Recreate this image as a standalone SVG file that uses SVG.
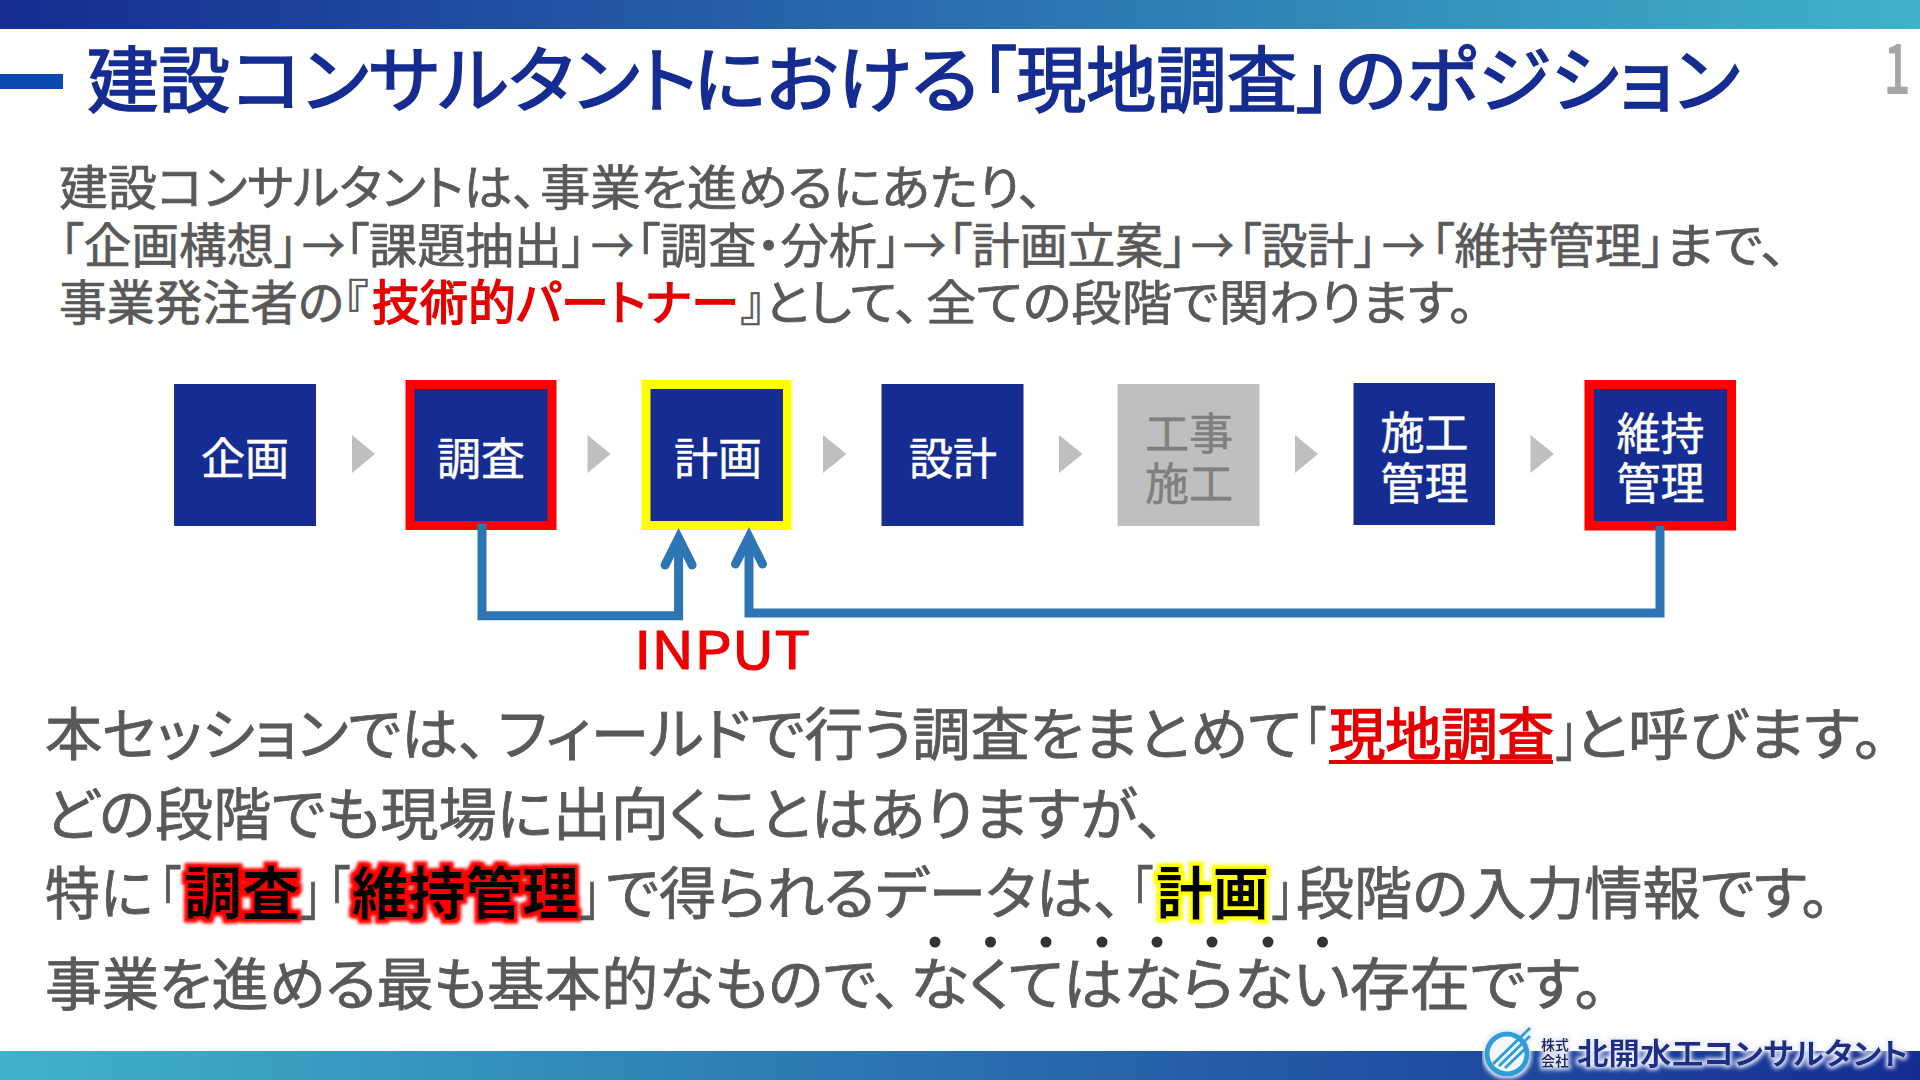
<svg xmlns="http://www.w3.org/2000/svg" width="1920" height="1080" viewBox="0 0 1920 1080">
<defs>
<linearGradient id="gTop" x1="0" x2="1" y1="0" y2="0"><stop offset="0" stop-color="#152c92"/><stop offset="1" stop-color="#3fb3cb"/></linearGradient>
<linearGradient id="gBot" x1="0" x2="1" y1="0" y2="0"><stop offset="0" stop-color="#3fb3cb"/><stop offset="1" stop-color="#152c92"/></linearGradient>
<marker id="openArrow" markerUnits="userSpaceOnUse" markerWidth="60" markerHeight="60" refX="30" refY="30" viewBox="0 0 60 60" orient="auto" overflow="visible"><path d="M3,16.5 L30,30 L3,43.5" fill="none" stroke="#2e75b6" stroke-width="9" stroke-linecap="round" stroke-linejoin="miter"/></marker>
<filter id="glowRed" x="-20%" y="-30%" width="140%" height="160%"><feMorphology in="SourceAlpha" operator="dilate" radius="4" result="d"/><feGaussianBlur in="d" stdDeviation="1.6" result="b"/><feFlood flood-color="#ff0000"/><feComposite in2="b" operator="in" result="c"/><feMerge><feMergeNode in="c"/><feMergeNode in="SourceGraphic"/></feMerge></filter>
<filter id="glowYel" x="-20%" y="-30%" width="140%" height="160%"><feMorphology in="SourceAlpha" operator="dilate" radius="4" result="d"/><feGaussianBlur in="d" stdDeviation="1.6" result="b"/><feFlood flood-color="#ffff00"/><feComposite in2="b" operator="in" result="c"/><feMerge><feMergeNode in="c"/><feMergeNode in="SourceGraphic"/></feMerge></filter>
<filter id="glowWhite" x="-10%" y="-40%" width="120%" height="180%"><feMorphology in="SourceAlpha" operator="dilate" radius="2" result="d"/><feGaussianBlur in="d" stdDeviation="2.2" result="b"/><feFlood flood-color="#e6ecfa"/><feComposite in2="b" operator="in" result="c"/><feMerge><feMergeNode in="c"/><feMergeNode in="SourceGraphic"/></feMerge></filter>
</defs>
<style>
text{font-family:"Noto Sans CJK JP","Noto Sans",sans-serif;font-feature-settings:"palt";}
.title{font-size:72px;font-weight:400;fill:#152c92;stroke:#152c92;stroke-width:1.7px}
.p1{font-size:48px;fill:#595959;stroke:#595959;stroke-width:.7px}
.p2{font-size:57px;fill:#595959;stroke:#595959;stroke-width:.8px}
.red{fill:#e60000;stroke:#e60000;stroke-width:1.5px}
.blk{fill:#000;stroke:none;font-weight:700}
.box{fill:#152c92}
.nt{font-size:44px;fill:#fff;stroke:#fff;stroke-width:.5px;text-anchor:middle}
.tri{fill:#bfbfbf}
.dot{fill:#333}
</style>
<rect width="1920" height="29" fill="url(#gTop)"/>
<rect y="1051" width="1920" height="29" fill="url(#gBot)"/>
<rect y="74" width="63" height="15" fill="#0b4ab0"/>
<text id="title" class="title" y="106"><tspan x="87" textLength="143" lengthAdjust="spacingAndGlyphs">建設</tspan><tspan x="232" textLength="465" lengthAdjust="spacingAndGlyphs">コンサルタント</tspan><tspan x="693" textLength="286" lengthAdjust="spacingAndGlyphs">における</tspan><tspan x="981" textLength="351" lengthAdjust="spacingAndGlyphs">「現地調査」</tspan><tspan x="1335" textLength="405" lengthAdjust="spacingAndGlyphs">のポジション</tspan></text>
<text id="page" x="1884" y="93" font-size="68" fill="#a6a6a6" stroke="#a6a6a6" stroke-width="2" textLength="26" lengthAdjust="spacingAndGlyphs">1</text>

<text id="intro" class="p1"><tspan x="59" y="205" textLength="478" lengthAdjust="spacingAndGlyphs">建設コンサルタントは、</tspan><tspan x="540" textLength="503" lengthAdjust="spacingAndGlyphs">事業を進めるにあたり、</tspan><tspan x="60" y="263" textLength="238" lengthAdjust="spacingAndGlyphs">「企画構想」</tspan><tspan x="302" textLength="43" lengthAdjust="spacingAndGlyphs">→</tspan><tspan x="345" textLength="241" lengthAdjust="spacingAndGlyphs">「課題抽出」</tspan><tspan x="591" textLength="43" lengthAdjust="spacingAndGlyphs">→</tspan><tspan x="636" textLength="265" lengthAdjust="spacingAndGlyphs">「調査・分析」</tspan><tspan x="903" textLength="43" lengthAdjust="spacingAndGlyphs">→</tspan><tspan x="948" textLength="239" lengthAdjust="spacingAndGlyphs">「計画立案」</tspan><tspan x="1191" textLength="43" lengthAdjust="spacingAndGlyphs">→</tspan><tspan x="1238" textLength="139" lengthAdjust="spacingAndGlyphs">「設計」</tspan><tspan x="1382" textLength="43" lengthAdjust="spacingAndGlyphs">→</tspan><tspan x="1431" textLength="234" lengthAdjust="spacingAndGlyphs">「維持管理」</tspan><tspan x="1665" textLength="122" lengthAdjust="spacingAndGlyphs">まで、</tspan><tspan x="59" y="320" textLength="285" lengthAdjust="spacingAndGlyphs">事業発注者の</tspan><tspan x="344" textLength="24" lengthAdjust="spacingAndGlyphs">『</tspan><tspan x="372" textLength="367" lengthAdjust="spacingAndGlyphs" class="red">技術的パートナー</tspan><tspan x="741" textLength="24" lengthAdjust="spacingAndGlyphs">』</tspan><tspan x="764" textLength="156" lengthAdjust="spacingAndGlyphs">として、</tspan><tspan x="926" textLength="548" lengthAdjust="spacingAndGlyphs">全ての段階で関わります。</tspan></text>

<g id="node-kikaku"><rect class="box" x="174" y="384" width="142" height="142"/><text class="nt" x="245" y="475">企画</text></g>
<g id="node-chosa"><rect fill="#ff0000" x="405.5" y="380" width="151" height="150"/><rect class="box" x="414.5" y="389" width="133" height="132"/><text class="nt" x="481" y="475">調査</text></g>
<g id="node-keikaku"><rect fill="#ffff00" x="641.5" y="380" width="150" height="150"/><rect class="box" x="650.5" y="389" width="132.5" height="132"/><text class="nt" x="718" y="475">計画</text></g>
<g id="node-sekkei"><rect class="box" x="881.5" y="384" width="142" height="142"/><text class="nt" x="953" y="475">設計</text></g>
<g id="node-koji"><rect fill="#bfbfbf" x="1117.5" y="384" width="142" height="142"/><text class="nt" style="fill:#7f7f7f;stroke:#7f7f7f"><tspan x="1189" y="450">工事</tspan><tspan x="1189" y="500">施工</tspan></text></g>
<g id="node-sekokanri"><rect class="box" x="1353.5" y="383" width="141.5" height="142"/><text class="nt"><tspan x="1424.5" y="449">施工</tspan><tspan x="1424.5" y="500">管理</tspan></text></g>
<g id="node-ijikanri"><rect fill="#ff0000" x="1584.5" y="380" width="151.5" height="150.5"/><rect class="box" x="1594" y="389" width="133" height="132"/><text class="nt"><tspan x="1660.5" y="450">維持</tspan><tspan x="1660.5" y="500">管理</tspan></text></g>

<g id="chevrons"><polygon class="tri" points="352,435 375,454 352,473"/><polygon class="tri" points="587.5,435 610.5,454 587.5,473"/><polygon class="tri" points="823,435 846.5,454 823,473"/><polygon class="tri" points="1059,435 1082.5,454 1059,473"/><polygon class="tri" points="1295,435 1318,454 1295,473"/><polygon class="tri" points="1530.5,435 1554,454 1530.5,473"/></g>

<g id="connectors" fill="none" stroke="#2e75b6" stroke-width="9"><path d="M482,524 V615.7 H678.6 V538" marker-end="url(#openArrow)"/><path d="M1660,526 V613 H749 V537" marker-end="url(#openArrow)"/></g>
<text id="input" x="634" y="669" font-size="52" fill="#ee0000" stroke="#ee0000" stroke-width="1" textLength="176" lengthAdjust="spacingAndGlyphs">INPUT</text>

<text class="p2" y="755"><tspan x="45" textLength="442" lengthAdjust="spacingAndGlyphs">本セッションでは、</tspan><tspan x="498" textLength="804" lengthAdjust="spacingAndGlyphs">フィールドで行う調査をまとめて</tspan><tspan x="1304" textLength="22" lengthAdjust="spacingAndGlyphs">「</tspan><tspan x="1329" textLength="225" lengthAdjust="spacingAndGlyphs" class="red">現地調査</tspan><tspan x="1556" textLength="22" lengthAdjust="spacingAndGlyphs">」</tspan><tspan x="1574" textLength="310" lengthAdjust="spacingAndGlyphs">と呼びます。</tspan></text>
<rect x="1329" y="760" width="224" height="4" fill="#e60000"/>
<text class="p2" y="835" x="45" textLength="1120" lengthAdjust="spacingAndGlyphs">どの段階でも現場に出向くことはありますが、</text>
<text class="p2" y="914"><tspan x="45" textLength="108" lengthAdjust="spacingAndGlyphs">特に</tspan><tspan x="159" textLength="22" lengthAdjust="spacingAndGlyphs">「</tspan></text>
<text class="p2 blk" x="184" y="914" textLength="116" lengthAdjust="spacingAndGlyphs" filter="url(#glowRed)">調査</text>
<text class="p2" y="914"><tspan x="300" textLength="22" lengthAdjust="spacingAndGlyphs">」</tspan><tspan x="328" textLength="22" lengthAdjust="spacingAndGlyphs">「</tspan></text>
<text class="p2 blk" x="352" y="914" textLength="227" lengthAdjust="spacingAndGlyphs" filter="url(#glowRed)">維持管理</text>
<text class="p2" y="914"><tspan x="579" textLength="22" lengthAdjust="spacingAndGlyphs">」</tspan><tspan x="606" textLength="516" lengthAdjust="spacingAndGlyphs">で得られるデータは、</tspan><tspan x="1131" textLength="22" lengthAdjust="spacingAndGlyphs">「</tspan></text>
<text class="p2 blk" x="1156" y="914" textLength="113" lengthAdjust="spacingAndGlyphs" filter="url(#glowYel)">計画</text>
<text class="p2" y="914"><tspan x="1272" textLength="22" lengthAdjust="spacingAndGlyphs">」</tspan><tspan x="1296" textLength="534" lengthAdjust="spacingAndGlyphs">段階の入力情報です。</tspan></text>
<g id="emphasis-dots"><circle class="dot" cx="935" cy="942" r="5.5"/><circle class="dot" cx="990.5" cy="942" r="5.5"/><circle class="dot" cx="1046" cy="942" r="5.5"/><circle class="dot" cx="1102" cy="942" r="5.5"/><circle class="dot" cx="1157" cy="942" r="5.5"/><circle class="dot" cx="1212" cy="942" r="5.5"/><circle class="dot" cx="1268" cy="942" r="5.5"/><circle class="dot" cx="1322.5" cy="942" r="5.5"/></g>
<text class="p2" y="1005"><tspan x="45" textLength="857" lengthAdjust="spacingAndGlyphs">事業を進める最も基本的なもので、</tspan><tspan x="910" textLength="694" lengthAdjust="spacingAndGlyphs">なくてはならない存在です。</tspan></text>

<g id="logo"><g filter="url(#glowWhite)"><circle cx="1507" cy="1054" r="20" fill="#f4f8fc" stroke="#2d9fd6" stroke-width="5"/><path d="M1493,1064 L1530,1028 M1499,1066 L1530,1036 M1505,1068 L1526,1048" fill="none" stroke="#2d9fd6" stroke-width="3"/></g>
<g filter="url(#glowWhite)"><text font-size="14" font-weight="700" fill="#1c2a6a"><tspan x="1541" y="1050" textLength="28" lengthAdjust="spacingAndGlyphs">株式</tspan><tspan x="1541" y="1066" textLength="28" lengthAdjust="spacingAndGlyphs">会社</tspan></text><text x="1577" y="1064" font-size="30" font-weight="700" fill="#1a2f88" textLength="331" lengthAdjust="spacingAndGlyphs">北開水工コンサルタント</text></g></g>
</svg>
